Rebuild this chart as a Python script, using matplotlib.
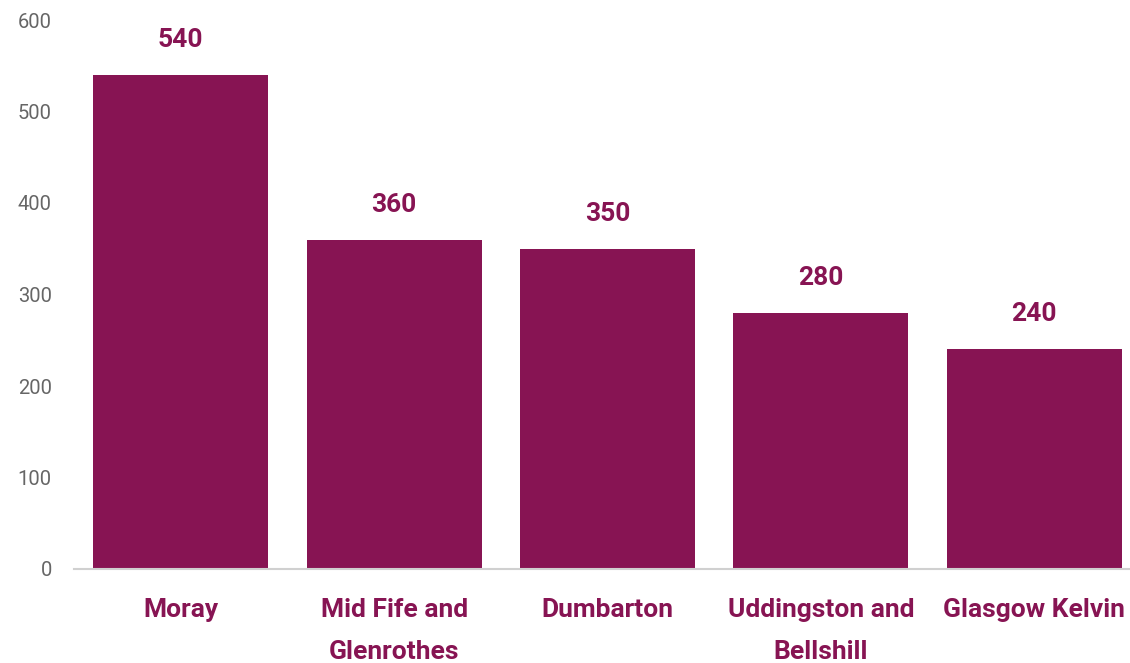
import matplotlib.pyplot as plt

categories = ["Moray", "Mid Fife and\nGlenrothes", "Dumbarton", "Uddingston and\nBellshill", "Glasgow Kelvin"]
values = [540, 360, 350, 280, 240]
yticks = [0, 100, 200, 300, 400, 500, 600]

bar_color = "#871453"

plt.rcParams["font.family"] = ["Roboto", "DejaVu Sans"]

fig = plt.figure(figsize=(11.3, 6.63), dpi=100)
ax = fig.add_axes([74 / 1130, 1 - 569 / 663, (1130 - 74) / 1130, (569 - 20) / 663])

x = list(range(len(categories)))
ax.bar(x, values, width=0.82, color=bar_color, zorder=2)

for xi, v in zip(x, values):
    ax.annotate(str(v), (xi, v), xytext=(0, 23), textcoords="offset pixels",
                ha="center", va="bottom", fontsize=19, fontweight="bold", color=bar_color)

ax.set_xlim(-0.5, 4.5 - 11 / 213.5)
ax.set_ylim(0, 600)
ax.set_yticks(yticks)
ax.set_xticks(x)
ax.set_xticklabels(categories, fontsize=19, fontweight="bold", color=bar_color, linespacing=1.92)
ax.tick_params(axis="y", length=0, pad=16, labelsize=14.5, labelcolor="#666666")
ax.tick_params(axis="x", length=0, pad=21)

for side in ["top", "right", "left"]:
    ax.spines[side].set_visible(False)
ax.spines["bottom"].set_color("#d0d0d0")
ax.spines["bottom"].set_linewidth(1.5)

fig.savefig("out.png", dpi=100)
